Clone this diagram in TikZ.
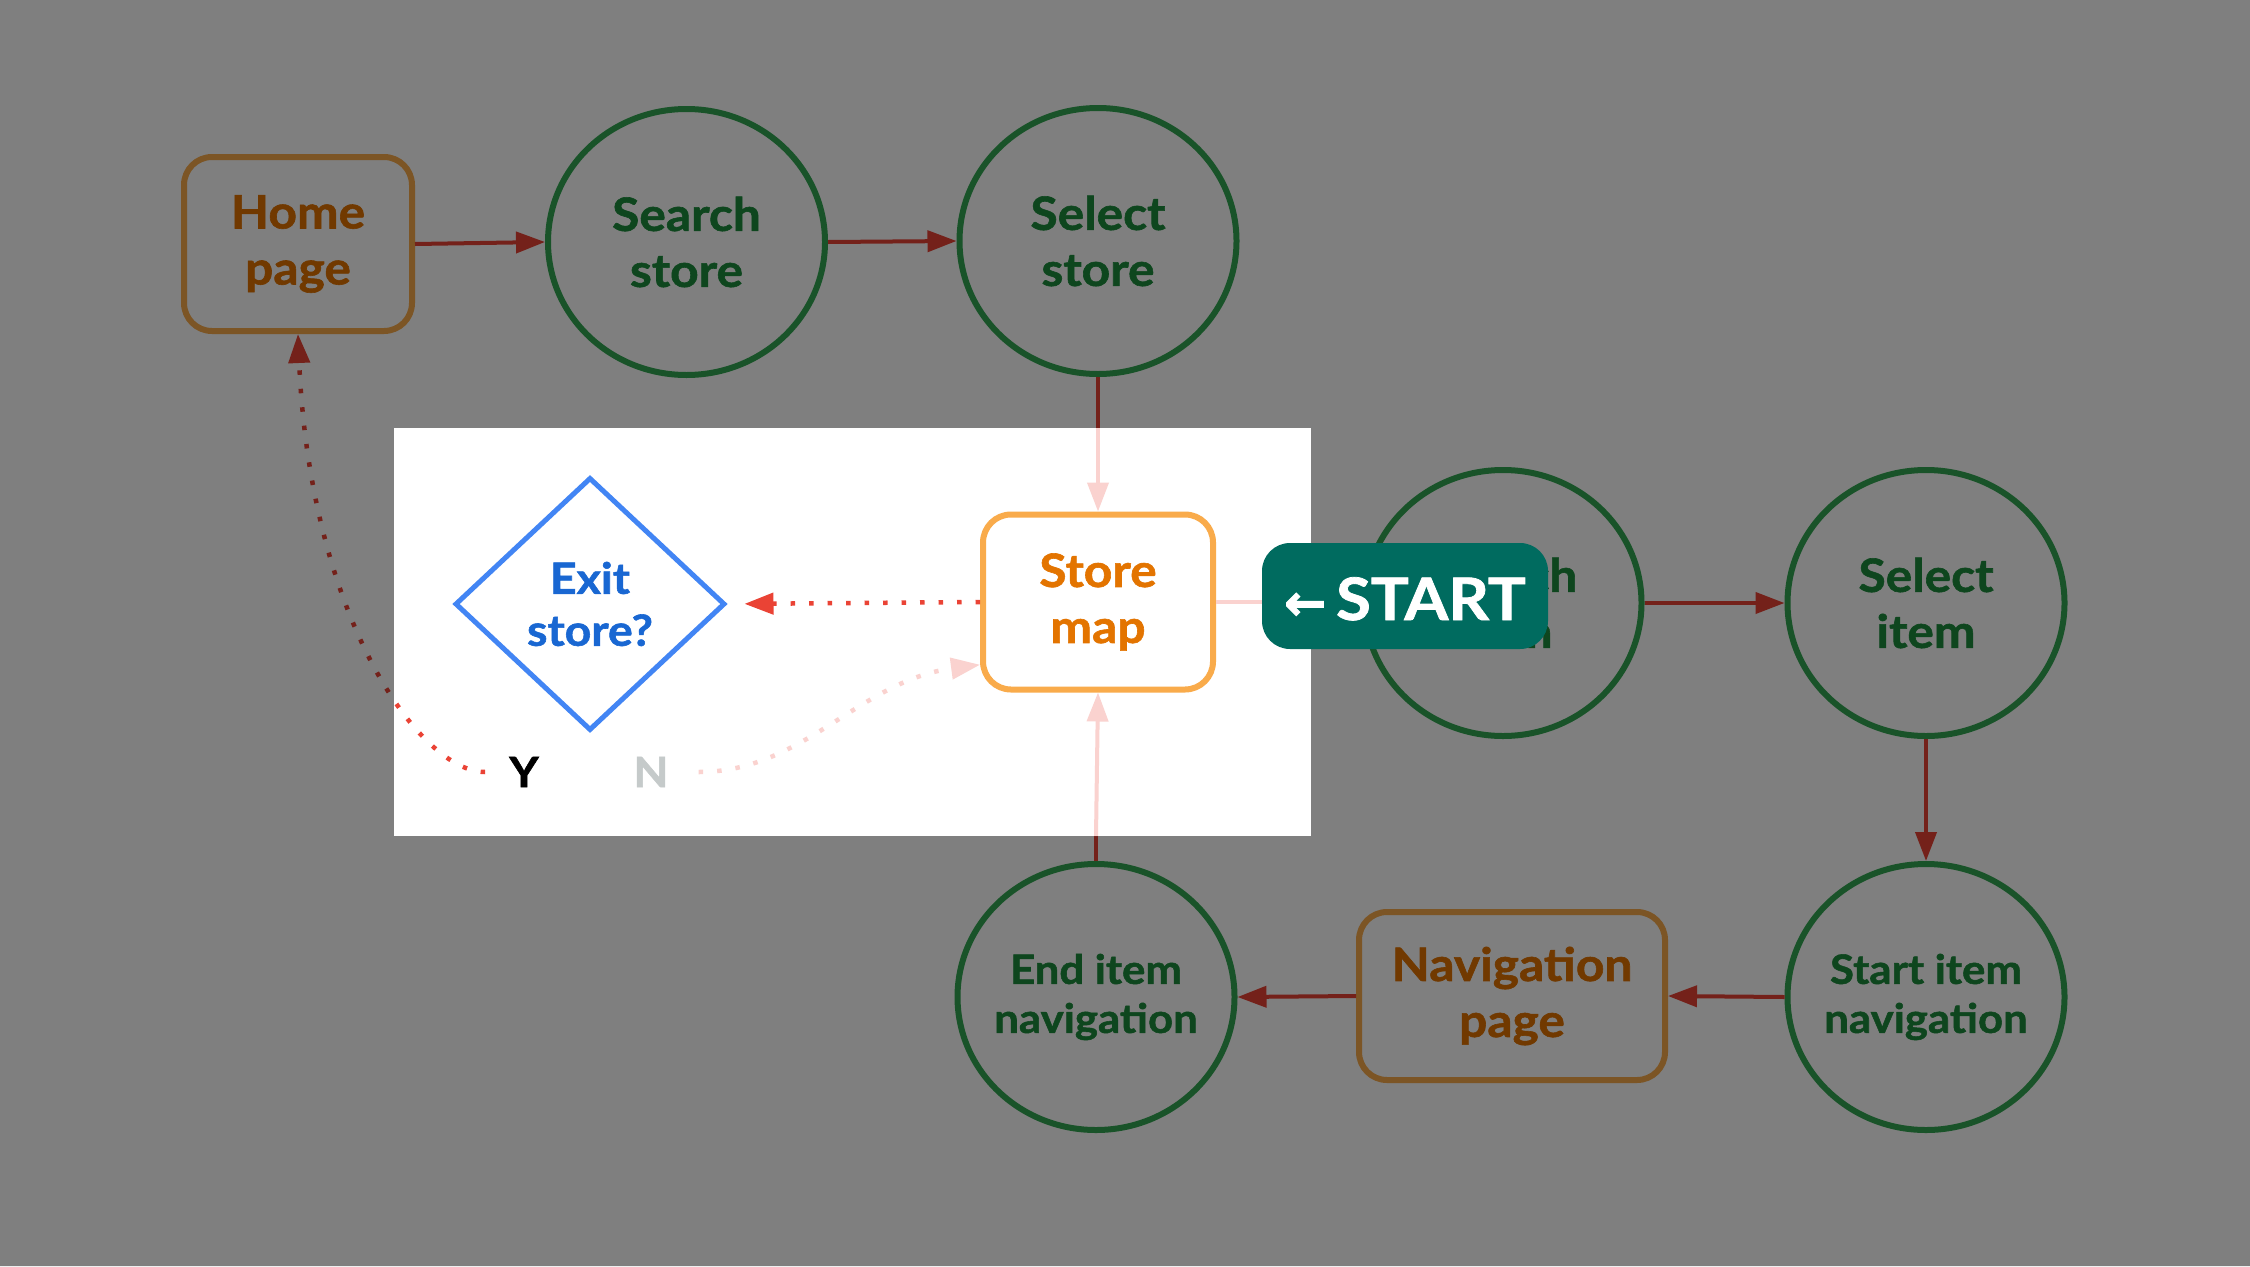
\documentclass[tikz,border=0pt]{standalone}
\usepackage{fontspec}
\setmainfont{Lato}[BoldFeatures={FakeBold=1.3,FakeStretch=1.08}]
\newfontfamily\arrowfont{DejaVu Sans}[FakeBold=2]
\usetikzlibrary{arrows.meta,shapes.geometric}
\definecolor{gRed}{HTML}{EA4335}
\definecolor{pinkFade}{HTML}{FAD2CF}
\definecolor{gGreen}{HTML}{34A853}
\definecolor{gGreenTxt}{HTML}{1E8E3E}
\definecolor{gOrange}{HTML}{F9AB4B}
\definecolor{gOrangeTxt}{HTML}{E37400}
\definecolor{gBlue}{HTML}{4285F4}
\definecolor{gBlueTxt}{HTML}{1967D2}
\definecolor{nGray}{HTML}{C5CACA}
\definecolor{startTeal}{HTML}{006B5F}
\tikzset{
  circ/.style={ellipse, draw=gGreen, line width=6pt, minimum width=277pt, minimum height=266pt,
    inner xsep=-70pt, inner ysep=0pt,
    text=gGreenTxt, align=center, font=\bfseries\fontsize{46}{56}\selectfont},
  circsmall/.style={circ, font=\bfseries\fontsize{40.5}{49}\selectfont},
  pagebox/.style={rectangle, rounded corners=28pt, draw=gOrange, line width=6pt, inner sep=0pt,
    text=gOrangeTxt, align=center, font=\bfseries\fontsize{46}{56}\selectfont},
  decision/.style={diamond, draw=gBlue, line width=5pt, inner sep=0pt,
    minimum width=270pt, minimum height=253pt, text=gBlueTxt, align=center,
    font=\bfseries\fontsize{43}{52}\selectfont},
  ynlabel/.style={inner ysep=0pt, font=\bfseries\fontsize{42}{50}\selectfont},
  tip/.style={-{Triangle[length=29pt,width=21pt]}},
  conn/.style={line width=4pt, draw=gRed},
  fadeconn/.style={line width=4pt, draw=pinkFade},
  dotconn/.style={line width=4.5pt, draw=gRed, dash pattern=on 4.5pt off 14pt},
  fadedot/.style={line width=4.5pt, draw=pinkFade, dash pattern=on 4.5pt off 14pt},
  startlabel/.style={fill=startTeal, rounded corners=28pt, minimum width=286pt, minimum height=106pt,
    inner sep=0pt, text=white, text height=48pt, text depth=0pt,
    font=\bfseries\fontsize{58.6}{60}\selectfont}
}
\begin{document}
\begin{tikzpicture}[x=1pt,y=-1pt]
\useasboundingbox (0,0) rectangle (2250,1266);
\fill[white] (0,0) rectangle (2250,1266);
% spotlight area
\node[minimum width=917pt, minimum height=408pt, inner sep=0pt] (spot) at (852.5,632) {};
% nodes
\node[pagebox, minimum width=228pt, minimum height=174pt] (home) at (298,244) {Home\\page};
\node[circ] (search) at (686.5,242) {Search\\store};
\node[circ] (select) at (1098,241) {Select\\store};
\node[pagebox, minimum width=230pt, minimum height=175pt] (map) at (1098,602) {Store\\map};
\node[circ] (sitem) at (1503,603) {Search\\item};
\node[circ] (selitem) at (1926,603) {Select\\item};
\node[circsmall] (startnav) at (1926,997) {Start item\\navigation};
\node[pagebox, minimum width=306pt, minimum height=168pt] (navpage) at (1512,996) {Navigation\\page};
\node[circsmall] (endnav) at (1096,997) {End item\\navigation};
\node[decision] (exit) at (590,604) {Exit\\store?};
\node[ynlabel, inner xsep=24pt, text=black] (Y) at (524,772) {Y};
\node[ynlabel, inner xsep=30pt, text=nGray] (N) at (651,772) {N};
% cut points where connectors enter the spotlight
\coordinate (cutA) at (select.south |- spot.north);
\coordinate (cutB) at (endnav.north |- spot.south);
\coordinate (cutC) at (spot.east |- map.east);
% connectors
\draw[conn, tip] (home.east) -- (search.west);
\draw[conn, tip] (search.east) -- (select.west);
\draw[conn] (select.south) -- (cutA);
\draw[fadeconn, tip] (cutA) -- (map.north);
\draw[fadeconn] (map.east) -- (cutC);
\draw[conn, tip] (cutC) -- (sitem.west);
\draw[conn, tip] (sitem.east) -- (selitem.west);
\draw[conn, tip] (selitem.south) -- (startnav.north);
\draw[conn, tip] (startnav.west) -- (navpage.east);
\draw[conn, tip] (navpage.west) -- (endnav.east);
\draw[conn] (endnav.north) -- (cutB);
\draw[fadeconn, tip] (cutB) -- (map.south);
\draw[dotconn, tip, shorten >=17pt] (map.west) -- (exit.east);
\draw[dotconn, tip] (Y.west) .. controls +(-65,0) and +(12,284) .. (home.south);
\draw[fadedot, tip] (N.east) .. controls +(105,0) and +(-121,16) .. (map.208);
% dimming overlay
\fill[black, opacity=0.5, even odd rule] (0,0) rectangle (2250,1266) (spot.north west) rectangle (spot.south east);
% start label
\node[startlabel] (start) at (1405,596) {{\arrowfont\bfseries\fontsize{50}{52}\selectfont ←}\hspace{10pt}START};
\end{tikzpicture}
\end{document}
